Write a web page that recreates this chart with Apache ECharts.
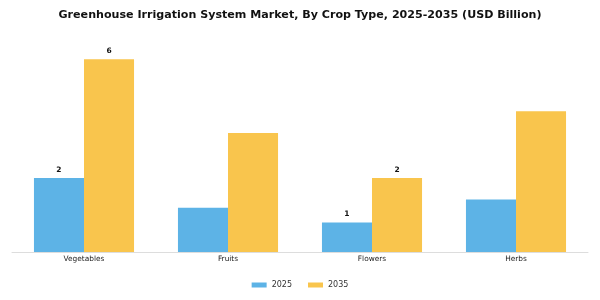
<!DOCTYPE html>
<html>
<head>
<meta charset="utf-8">
<script src="https://cdn.jsdelivr.net/npm/echarts@6/dist/echarts.min.js"></script>
<style>
  html, body { margin: 0; padding: 0; background: #fff; }
  #main { width: 600px; height: 300px; }
</style>
</head>
<body>
<div id="main"></div>
<script>
// 数据
var cropTypes = ['Vegetables', 'Fruits', 'Flowers', 'Herbs'];
var values2025 = [2.3, 1.38, 0.92, 1.63];
var values2035 = [6.0, 3.7, 2.3, 4.38];
// which bars carry a value label
var labeled2025 = [true, false, true, false];
var labeled2035 = [true, false, true, false];

function withLabels(values, flags) {
    return values.map(function (v, i) {
        return { value: v, label: { show: flags[i] } };
    });
}

var chart = echarts.init(document.getElementById('main'));

var labelStyle = {
    position: 'top',
    distance: 4,
    fontFamily: 'DejaVu Sans',
    fontSize: 7.5,
    fontWeight: 'bold',
    color: '#111',
    formatter: function (p) {
        return Math.round(p.value);
    }
};

var option = {
    animation: false,
    title: {
        text: 'Greenhouse Irrigation System Market, By Crop Type, 2025-2035 (USD Billion)',
        left: 'center',
        top: 5,
        textStyle: {
            fontFamily: 'DejaVu Sans',
            fontSize: 11.1,
            fontWeight: 'bold',
            color: '#111'
        }
    },
    legend: {
        bottom: 6,
        left: 'center',
        itemWidth: 15,
        itemHeight: 5,
        itemGap: 16,
        icon: 'rect',
        textStyle: {
            fontFamily: 'DejaVu Sans',
            fontSize: 8,
            color: '#333'
        },
        data: ['2025', '2035']
    },
    grid: {
        left: 12,
        right: 12,
        top: 27,
        bottom: 48
    },
    xAxis: {
        type: 'category',
        data: cropTypes,
        axisLine: { lineStyle: { color: '#ddd', width: 1 } },
        axisTick: { alignWithLabel: true, length: 3, lineStyle: { color: '#999' } },
        axisLabel: {
            fontFamily: 'DejaVu Sans',
            fontSize: 7.4,
            color: '#222',
            margin: 4
        }
    },
    yAxis: {
        type: 'value',
        min: 0,
        max: 7,
        show: false,
        splitLine: { show: false }
    },
    series: [
        {
            name: '2025',
            type: 'bar',
            barGap: '0%',
            barCategoryGap: '30.5%',
            itemStyle: { color: '#5DB3E6' },
            label: labelStyle,
            data: withLabels(values2025, labeled2025)
        },
        {
            name: '2035',
            type: 'bar',
            itemStyle: { color: '#F9C54D' },
            label: labelStyle,
            data: withLabels(values2035, labeled2035)
        }
    ]
};

chart.setOption(option);
</script>
</body>
</html>
